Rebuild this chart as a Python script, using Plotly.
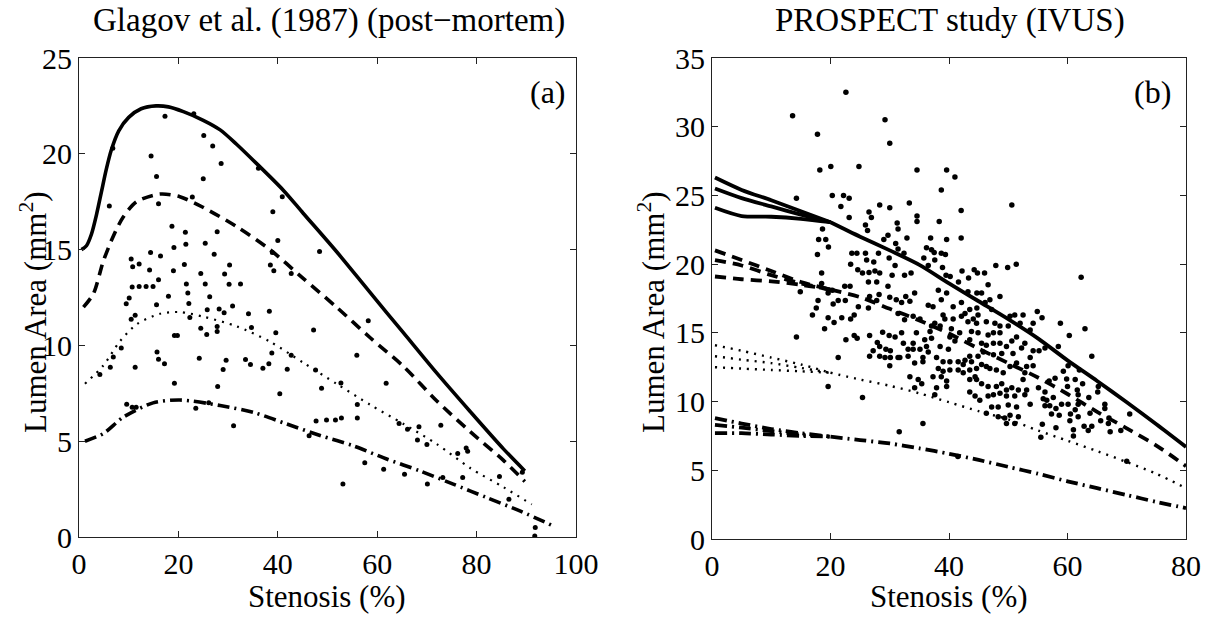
import plotly.graph_objects as go

# ---------------- Panel (a): Glagov et al. (1987), post-mortem ----------------
glagov_stenosis = [
    17.3, 23.1, 6.8, 14.5, 25.1, 26.9, 28.6, 15.6, 25.0, 36.1, 40.9, 6.1, 16.0, 22.8,
    39.0, 18.7, 21.4, 27.8, 40.0, 19.1, 21.5, 25.4, 14.4, 16.4, 27.2, 48.4, 38.9, 10.5,
    10.8, 12.1, 14.2, 19.0, 21.2, 24.5, 29.3, 30.3, 38.5, 39.2, 42.7, 16.0, 10.7, 12.1,
    13.5, 14.9, 21.6, 25.4, 30.2, 32.5, 10.1, 9.5, 18.0, 21.9, 26.3, 15.6, 22.1, 25.8,
    28.2, 29.2, 30.9, 34.1, 38.3, 10.5, 11.3, 22.3, 27.8, 24.5, 27.8, 25.7, 34.7, 39.6,
    47.2, 19.2, 19.8, 58.2, 8.5, 6.9, 6.3, 4.2, 11.3, 15.7, 16.0, 17.2, 24.2, 29.6,
    29.0, 33.5, 34.5, 37.0, 38.2, 38.8, 42.7, 41.9, 47.6, 48.8, 40.4, 55.9, 52.7, 61.8,
    19.2, 27.9, 9.6, 10.7, 11.5, 23.5, 26.1, 31.1, 46.3, 47.7, 49.8, 51.6, 52.8, 56.0,
    56.0, 57.5, 61.3, 53.1, 64.4, 66.1, 68.4, 68.1, 70.0, 72.8, 65.5, 70.1, 73.2, 76.2,
    77.9, 78.2, 77.2, 84.6, 86.5, 91.8, 91.7, 89.2,
]
glagov_area = [
    21.96, 22.09, 20.29, 19.89, 20.95, 20.41, 19.49, 18.81, 18.70, 19.24, 17.76, 17.27, 17.39, 17.74,
    16.97, 16.22, 15.91, 15.93, 15.47, 15.11, 15.28, 15.33, 14.85, 14.67, 14.76, 14.90, 14.85, 14.51,
    14.11, 14.25, 13.94, 13.89, 14.22, 13.75, 13.73, 14.20, 14.20, 13.89, 13.75, 13.42, 13.05, 13.08,
    13.07, 13.08, 13.21, 13.21, 13.19, 13.21, 12.47, 12.18, 12.56, 12.74, 12.54, 12.12, 12.19, 11.86,
    11.90, 11.71, 12.06, 11.65, 11.78, 11.37, 11.58, 11.46, 10.99, 10.89, 10.73, 10.57, 10.94, 10.66,
    10.80, 10.52, 10.52, 11.29, 9.86, 9.40, 8.86, 8.48, 8.86, 9.65, 9.28, 9.04, 9.33, 9.23,
    8.74, 9.26, 9.00, 8.81, 9.04, 9.60, 9.49, 8.76, 8.71, 7.76, 7.48, 9.49, 8.04, 8.03,
    8.03, 7.85, 6.93, 6.77, 6.77, 6.72, 7.01, 5.81, 5.29, 6.05, 6.11, 6.11, 6.21, 6.91,
    6.21, 3.87, 3.54, 2.76, 5.93, 5.62, 5.76, 5.06, 4.83, 5.83, 3.28, 2.76, 3.11, 4.36,
    4.64, 4.47, 3.11, 3.16, 1.97, 0.49, 0.05, 3.38,
]

# model curves, panel (a)
a_solid_x = [0.5, 1.5, 2.5, 3.5, 4.5, 5.5, 6.5, 8.0, 10.0, 12.5, 15.5, 18.0, 21.0, 25.0, 28.4,
             31.7, 35.7, 41.1, 45.1, 51.8, 58.6, 65.3, 72.0, 78.7, 85.4, 89.7]
a_solid_y = [15.0, 15.2, 15.8, 16.8, 18.0, 19.2, 20.2, 21.2, 21.9, 22.35, 22.5, 22.45, 22.2, 21.75, 21.25,
             20.5, 19.5, 18.1, 16.9, 14.9, 12.75, 10.65, 8.55, 6.55, 4.6, 3.45]
a_dash_x = [0.9, 2.9, 4.9, 6.9, 8.9, 11.6, 16.3, 20.3, 25.0, 31.7, 38.4, 45.1, 51.8, 58.6,
            65.3, 72.0, 78.7, 85.4, 89.7]
a_dash_y = [12.0, 12.7, 14.4, 15.7, 16.7, 17.5, 17.9, 17.76, 17.2, 16.2, 15.0, 13.5, 12.0, 10.4,
            8.9, 7.1, 5.5, 4.0, 2.9]
a_dot_x = [1.2, 4.9, 8.2, 11.6, 16.3, 20.3, 25.0, 31.7, 38.4, 45.1, 51.8, 58.6, 65.3, 72.0,
           78.7, 85.4, 91.1]
a_dot_y = [8.0, 8.95, 10.2, 11.1, 11.65, 11.74, 11.5, 11.0, 10.2, 9.1, 8.0, 6.9, 5.9, 4.85,
           3.6, 2.6, 1.7]
a_dashdot_x = [1.2, 4.9, 8.9, 14.9, 20.3, 28.4, 35.1, 41.8, 48.5, 55.2, 61.9, 68.6, 75.3, 82.0,
               88.7, 95.4]
a_dashdot_y = [5.0, 5.4, 6.25, 7.0, 7.15, 6.86, 6.5, 5.9, 5.3, 4.76, 4.07, 3.45, 2.76, 2.06,
               1.36, 0.58]

# ---------------- Panel (b): PROSPECT study (IVUS) ----------------
prospect_points = [
    # upper scatter
    (22.6, 32.5), (13.6, 30.8), (29.2, 30.5), (17.8, 29.45), (30.0, 28.8), (18.2, 26.85),
    (20.05, 27.1), (24.8, 27.1), (14.25, 24.8), (20.3, 25.0), (22.2, 25.0), (23.15, 24.8),
    (21.75, 24.2), (28.3, 24.3), (30.0, 24.1), (26.5, 23.8), (26.9, 23.4), (23.15, 23.4),
    (25.9, 22.85), (26.25, 22.45), (31.25, 23.0), (29.7, 22.1), (29.0, 21.8), (31.4, 22.55),
    (31.0, 21.5), (18.65, 22.55), (18.0, 21.8), (19.2, 21.8), (19.65, 21.25), (17.8, 20.7),
    (23.6, 20.8), (24.45, 20.8), (25.9, 20.8), (28.1, 20.8), (23.4, 20.0), (26.1, 20.3),
    (27.3, 20.15), (24.6, 19.6), (25.4, 19.35), (26.5, 19.4), (27.5, 19.5), (28.3, 19.35),
    (29.9, 20.45), (30.9, 19.9), (30.4, 19.2), (18.5, 19.35), (31.4, 21.1),
    (34.6, 26.85), (39.6, 26.85), (41.0, 26.35), (38.7, 25.4), (50.6, 24.3), (33.3, 24.45),
    (34.6, 23.5), (34.6, 23.1), (42.05, 23.9), (38.35, 23.1), (32.9, 21.9), (36.9, 21.9),
    (39.6, 21.8), (42.05, 21.9), (36.2, 21.2), (37.05, 21.05), (37.5, 20.85), (38.7, 20.8),
    (39.4, 20.7), (35.75, 20.45), (37.6, 20.3), (32.4, 20.8), (36.5, 19.9), (38.9, 19.75),
    (33.6, 19.35), (32.5, 19.2), (39.5, 19.2), (40.2, 19.1), (42.2, 19.5), (44.25, 19.6),
    (44.8, 19.35), (46.0, 19.35), (47.9, 19.9), (49.9, 19.75), (51.35, 20.0), (43.3, 19.0),
    (62.3, 19.05),
    # left part of the cloud
    (14.9, 18.0), (18.5, 18.6), (22.4, 18.4), (17.9, 17.35), (17.6, 16.8), (19.6, 17.9),
    (20.45, 17.1), (21.3, 17.35), (22.5, 17.35), (24.7, 16.9), (16.95, 16.3), (19.6, 16.1),
    (20.6, 15.75), (21.9, 16.1), (23.4, 16.0), (24.0, 16.3), (19.0, 15.3), (14.25, 14.7),
    (22.6, 14.5), (24.0, 14.8), (24.5, 14.6), (26.6, 14.8), (28.8, 15.05), (29.9, 14.8),
    (30.9, 14.7), (27.9, 14.3), (28.3, 14.0), (27.2, 13.7), (29.35, 13.8), (30.1, 13.7),
    (26.6, 13.3), (28.3, 13.3), (29.2, 13.2), (30.1, 13.2), (31.4, 13.2), (30.0, 12.6),
    (21.3, 13.2), (19.6, 11.1), (25.4, 10.3), (26.6, 17.65), (28.2, 17.8), (30.0, 17.6),
    (31.1, 17.4), (27.8, 17.35), (26.4, 16.8), (31.4, 16.4), (26.4, 18.7), (27.8, 18.7),
    (29.7, 18.4), (20.3, 18.1), (23.3, 18.4),
    # central part of the cloud
    (32.7, 17.65), (34.2, 17.9), (33.4, 17.3), (32.0, 17.2), (36.5, 17.0), (37.3, 16.9),
    (38.2, 18.1), (39.6, 17.9), (38.7, 17.4), (40.7, 16.9), (42.1, 17.2), (41.6, 18.7),
    (43.2, 18.0), (44.7, 17.9), (45.5, 17.9), (46.6, 18.5), (46.9, 17.4), (46.1, 17.2),
    (48.6, 17.65), (47.2, 16.7), (42.7, 16.4), (43.5, 16.7), (44.7, 16.8), (44.9, 16.3),
    (44.1, 16.0), (43.2, 15.8), (42.1, 16.2), (40.7, 16.0), (39.3, 16.0), (39.0, 16.3),
    (40.4, 15.3), (37.6, 15.7), (38.5, 15.5), (37.05, 15.5), (36.8, 15.1), (35.1, 16.0),
    (33.95, 16.2), (32.5, 15.95), (32.0, 15.0), (34.5, 15.0), (35.9, 14.5), (37.05, 14.6),
    (32.3, 14.25), (33.95, 14.25), (33.1, 13.8), (33.95, 13.8), (35.1, 13.8), (36.2, 14.0),
    (36.5, 13.6), (38.5, 14.0), (39.9, 13.8), (41.0, 14.4), (40.15, 14.7), (41.8, 15.0),
    (43.5, 14.5), (43.8, 15.1), (44.9, 15.0), (44.65, 15.7), (46.3, 15.8), (47.75, 15.7),
    (48.6, 15.5), (50.0, 15.5), (50.3, 16.2), (51.1, 16.3), (52.5, 16.3), (52.0, 15.7),
    (46.6, 14.85), (47.5, 15.0), (48.6, 15.0), (45.5, 14.25), (46.3, 14.1), (47.5, 14.25),
    (48.6, 14.25), (49.7, 14.0), (50.6, 14.4), (51.4, 14.7), (52.25, 13.9), (52.8, 14.25),
    (50.8, 13.5), (48.9, 13.5), (47.5, 13.4), (45.8, 13.6), (44.9, 13.3), (43.5, 13.3),
    (42.7, 13.0), (43.8, 12.9), (42.4, 12.7), (41.55, 12.9), (40.15, 12.9), (39.0, 12.9),
    (37.9, 13.2), (35.6, 13.2), (35.6, 12.9), (34.2, 12.8), (33.1, 13.3), (31.7, 13.2),
    (38.2, 12.4), (39.0, 12.2), (40.15, 12.3), (41.55, 12.3), (42.4, 12.1), (43.5, 12.3),
    (44.4, 11.8), (44.65, 12.4), (45.5, 12.7), (46.3, 12.55), (46.9, 12.4), (48.0, 12.3),
    (49.15, 12.1), (50.3, 12.55), (51.4, 12.8), (53.1, 12.55), (52.8, 12.1), (37.3, 11.8),
    (38.7, 11.8), (39.6, 11.5), (39.6, 11.1), (37.9, 11.0), (37.6, 10.5), (33.4, 11.8),
    (34.8, 11.6), (35.4, 11.3), (34.2, 11.0), (43.5, 11.6), (44.65, 11.6), (45.5, 11.3),
    (46.6, 11.1), (48.0, 11.1), (48.9, 11.3), (49.7, 10.85), (50.6, 11.0), (51.7, 10.85),
    (52.5, 11.6), (53.1, 10.85), (43.5, 10.7), (44.4, 10.4), (45.2, 10.1), (46.6, 10.4),
    (47.5, 10.5), (48.6, 10.6), (49.7, 10.4), (51.1, 10.4), (52.8, 10.5), (47.2, 9.6),
    (48.3, 9.6), (50.0, 9.75), (51.4, 9.6), (50.3, 9.0), (51.7, 8.9), (49.4, 8.8),
    (46.3, 9.15), (48.3, 8.9), (49.7, 8.4), (51.1, 8.4), (35.6, 8.4), (31.6, 7.8),
    (41.5, 6.0),
    # right part of the cloud
    (54.9, 16.55), (54.2, 15.7), (55.7, 16.1), (58.8, 15.7), (62.95, 15.3), (60.3, 14.8),
    (53.7, 15.2), (54.2, 13.7), (55.2, 13.7), (56.2, 13.9), (58.45, 14.0), (64.1, 13.3),
    (54.2, 12.6), (53.7, 13.2), (59.3, 12.2), (60.1, 12.6), (62.0, 12.3), (57.9, 11.7),
    (56.9, 11.5), (55.1, 11.0), (56.2, 10.7), (59.85, 11.65), (61.3, 11.6), (62.55, 11.3),
    (60.0, 11.1), (61.65, 10.85), (65.2, 11.1), (65.1, 10.7), (61.8, 10.5), (55.9, 10.2),
    (56.5, 10.1), (57.6, 10.3), (53.7, 9.8), (56.2, 9.7), (57.0, 9.7), (58.05, 9.5),
    (59.0, 9.8), (60.1, 9.8), (61.3, 9.4), (61.8, 9.8), (63.6, 10.3), (66.3, 9.8),
    (66.3, 9.5), (57.3, 9.1), (58.6, 9.0), (60.5, 9.1), (61.8, 8.9), (63.8, 9.15),
    (60.4, 8.6), (65.6, 8.6), (67.0, 8.8), (66.9, 8.4), (62.8, 8.2), (63.5, 7.9),
    (64.1, 8.2), (55.75, 8.35), (58.05, 8.1), (61.0, 7.95), (67.2, 7.8), (69.0, 7.9),
    (70.5, 9.1), (61.0, 7.5), (55.5, 7.4), (70.0, 5.65),
]
prospect_stenosis = [p[0] for p in prospect_points]
prospect_area = [p[1] for p in prospect_points]

# model curves, panel (b): three fits per line style that merge after ~20 %
b_head_x = [0.5, 5, 10, 15, 20]
b_tail_x = [20, 25, 30, 35, 40, 45, 50, 55, 60, 65, 70, 75, 80]

b_solid_heads = [[26.3, 25.4, 24.65, 23.85, 23.05], [25.5, 24.8, 24.2, 23.6, 23.05],
                 [24.1, 23.5, 23.45, 23.3, 23.05]]
b_solid_tail = [23.05, 22.0, 21.0, 19.95, 18.6, 17.3, 16.0, 14.6, 13.0, 11.5, 9.95, 8.35, 6.7]

b_dash_heads = [[21.0, 20.3, 19.5, 18.7, 18.15], [20.3, 19.9, 19.2, 18.6, 18.15],
                [19.1, 18.9, 18.75, 18.5, 18.15]]
b_dash_tail = [18.15, 17.6, 16.75, 15.9, 14.95, 13.85, 12.8, 11.75, 10.55, 9.25, 8.05, 6.8, 5.3]

b_dot_heads = [[14.1, 13.7, 13.2, 12.7, 12.1], [13.3, 13.05, 12.8, 12.45, 12.1],
               [12.5, 12.4, 12.3, 12.2, 12.1]]
b_dot_tail = [12.1, 11.6, 11.15, 10.6, 9.95, 9.3, 8.7, 7.9, 7.15, 6.4, 5.6, 4.75, 3.7]

b_dashdot_heads = [[8.8, 8.4, 8.0, 7.7, 7.45], [8.3, 8.1, 7.85, 7.6, 7.45],
                   [7.7, 7.7, 7.6, 7.5, 7.45]]
b_dashdot_tail = [7.45, 7.2, 6.95, 6.6, 6.2, 5.75, 5.25, 4.75, 4.2, 3.7, 3.2, 2.7, 2.25]

FONT = "Liberation Serif, Times New Roman, serif"
INK = "black"

DASH = "11px,7px"
DOT = "2px,6px"
DASHDOT = "12px,5px,2px,5px"

fig = go.Figure()


def curve(x, y, dash, width, axes):
    fig.add_trace(go.Scatter(
        x=x, y=y, mode="lines", xaxis=axes[0], yaxis=axes[1], showlegend=False,
        line=dict(color=INK, width=width, dash=dash, shape="spline", smoothing=0.8),
        hoverinfo="skip"))


# panel (a)
fig.add_trace(go.Scatter(x=glagov_stenosis, y=glagov_area, mode="markers", xaxis="x", yaxis="y",
                         marker=dict(color=INK, size=5), showlegend=False))
curve(a_solid_x, a_solid_y, "solid", 3.6, ("x", "y"))
curve(a_dash_x, a_dash_y, DASH, 3.6, ("x", "y"))
curve(a_dot_x, a_dot_y, DOT, 2.2, ("x", "y"))
curve(a_dashdot_x, a_dashdot_y, DASHDOT, 3.6, ("x", "y"))

# panel (b)
fig.add_trace(go.Scatter(x=prospect_stenosis, y=prospect_area, mode="markers", xaxis="x2", yaxis="y2",
                         marker=dict(color=INK, size=5.5), showlegend=False))
for heads, tail, dash, width in [
    (b_solid_heads, b_solid_tail, "solid", 3.8),
    (b_dash_heads, b_dash_tail, DASH, 3.8),
    (b_dot_heads, b_dot_tail, DOT, 2.4),
    (b_dashdot_heads, b_dashdot_tail, DASHDOT, 3.8),
]:
    for head in heads:
        curve(b_head_x, head, dash, width, ("x2", "y2"))
    curve(b_tail_x, tail, dash, width, ("x2", "y2"))

W, H = 1225, 617
axis_common = dict(
    showline=True, linecolor="#222", linewidth=1, mirror="ticks",
    ticks="inside", ticklen=6, tickcolor="#222", tickwidth=1,
    showgrid=False, zeroline=False, automargin=False,
    tickfont=dict(family=FONT, size=30, color=INK),
)

fig.update_layout(
    template="none",
    width=W, height=H,
    margin=dict(l=0, r=0, t=0, b=0, pad=0),
    paper_bgcolor="white", plot_bgcolor="white",
    xaxis=dict(domain=[79 / W, 576 / W], range=[0, 100], tickvals=[0, 20, 40, 60, 80, 100],
               anchor="y", **axis_common),
    yaxis=dict(domain=[1 - 537 / H, 1 - 58 / H], range=[0, 25], tickvals=[0, 5, 10, 15, 20, 25],
               anchor="x", **axis_common),
    xaxis2=dict(domain=[712 / W, 1186 / W], range=[0, 80], tickvals=[0, 20, 40, 60, 80],
                anchor="y2", **axis_common),
    yaxis2=dict(domain=[1 - 539 / H, 1 - 58 / H], range=[0, 35], tickvals=[0, 5, 10, 15, 20, 25, 30, 35],
                anchor="x2", **axis_common),
)


def label(text, x, y, size=31, angle=0):
    fig.add_annotation(text=text, x=x / W, y=1 - y / H, xref="paper", yref="paper",
                       showarrow=False, textangle=angle, xanchor="center", yanchor="middle",
                       font=dict(family=FONT, size=size, color=INK))


label("Glagov et al. (1987) (post\u2212mortem)", 329, 20, size=33)
label("PROSPECT study (IVUS)", 950, 20, size=33)
label("Stenosis (%)", 327, 596)
label("Stenosis (%)", 949, 596)
label("Lumen Area (mm<sup>2</sup>)", 34, 312, angle=-90)
label("Lumen Area (mm<sup>2</sup>)", 652, 312, angle=-90)
label("(a)", 548, 92, size=32)
label("(b)", 1152, 92, size=32)

fig.write_html("out.html")
